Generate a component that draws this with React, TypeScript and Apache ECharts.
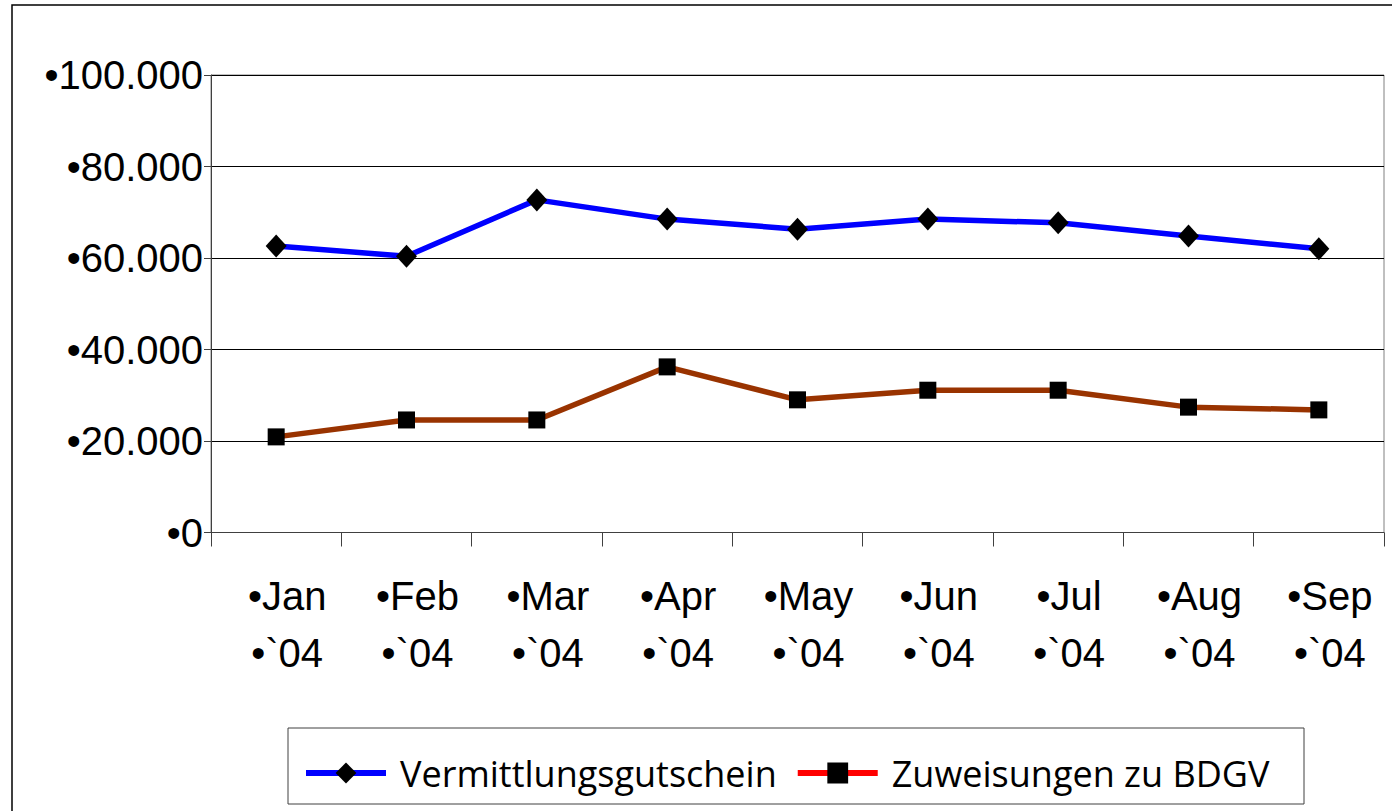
import React, { useEffect, useRef } from "react";
import * as echarts from "echarts";

const months = ["Jan", "Feb", "Mar", "Apr", "May", "Jun", "Jul", "Aug", "Sep"];
const yearLabel = "`04";
const vermittlungsgutschein = [62600, 60400, 72700, 68500, 66300, 68500, 67700, 64800, 62000];
const zuweisungen = [20900, 24600, 24600, 36200, 29000, 31100, 31100, 27400, 26800];
const seriesNames = ["Vermittlungsgutschein", "Zuweisungen zu BDGV"];
const yMin = 0;
const yMax = 100000;
const yStep = 20000;

const fmtThousands = (v: number) => String(v).replace(/\B(?=(\d{3})+(?!\d))/g, ".");

export default function App() {
  const ref = useRef<HTMLDivElement>(null);
  useEffect(() => {
    if (!ref.current) return;
    const chart = echarts.init(ref.current, undefined, { renderer: "svg" });
    const axisFont = "'Liberation Sans', Arial, sans-serif";
    chart.setOption({
      animation: false,
      backgroundColor: "#ffffff",
      grid: {
        left: 211,
        top: 75,
        width: 1173,
        height: 457.5,
        show: true,
        borderColor: "#808080",
        borderWidth: 1,
        backgroundColor: "transparent",
      },
      graphic: [
        {
          type: "rect",
          shape: { x: 12, y: 5, width: 1500, height: 900 },
          style: { fill: "none", stroke: "#000", lineWidth: 1.5 },
          silent: true,
          z: -1,
        },
        {
          type: "rect",
          shape: { x: 288, y: 728, width: 1016, height: 76 },
          style: { fill: "none", stroke: "#404040", lineWidth: 1 },
          silent: true,
        },
      ],
      legend: {
        left: 303,
        top: 755,
        padding: 0,
        itemWidth: 80,
        itemHeight: 26,
        itemGap: 18,
        textStyle: {
          fontFamily: "'Open Sans', sans-serif",
          fontSize: 36,
          color: "#000",
          padding: [4, 0, 0, 9],
        },
        data: [
          { name: seriesNames[0], lineStyle: { color: "#0000ff", width: 6 }, itemStyle: { color: "#000" } },
          { name: seriesNames[1], lineStyle: { color: "#ff0000", width: 6 }, itemStyle: { color: "#000" } },
        ],
      },
      xAxis: {
        type: "category",
        data: months,
        boundaryGap: true,
        axisLine: { lineStyle: { color: "#404040", width: 1 } },
        axisTick: { show: true, length: 14, lineStyle: { color: "#404040" } },
        splitLine: { show: false },
        axisLabel: {
          interval: 0,
          margin: 35,
          fontFamily: axisFont,
          fontSize: 40,
          lineHeight: 57,
          color: "#000",
          padding: [0, 0, 0, 22],
          formatter: (m: string) => `\u2022${m}\n\u2022${yearLabel}`,
        },
      },
      yAxis: {
        type: "value",
        min: yMin,
        max: yMax,
        interval: yStep,
        axisLine: { show: true, lineStyle: { color: "#404040", width: 1 } },
        axisTick: { show: true, length: 7, lineStyle: { color: "#404040" } },
        splitLine: { show: true, lineStyle: { color: "#000", width: 1 } },
        axisLabel: {
          margin: 8,
          fontFamily: axisFont,
          fontSize: 40,
          color: "#000",
          padding: [0, 0, 5, 0],
          formatter: (v: number) => `\u2022${fmtThousands(v)}`,
        },
      },
      series: [
        {
          name: seriesNames[0],
          type: "line",
          data: vermittlungsgutschein,
          symbol: "diamond",
          symbolSize: [21, 23],
          lineStyle: { color: "#0000ff", width: 5.5 },
          itemStyle: { color: "#000" },
          z: 3,
        },
        {
          name: seriesNames[1],
          type: "line",
          data: zuweisungen,
          symbol: "rect",
          symbolSize: 17,
          lineStyle: { color: "#993300", width: 5.5 },
          itemStyle: { color: "#000" },
          z: 3,
        },
      ],
    });
    return () => chart.dispose();
  }, []);
  return (
    <div
      ref={ref}
      style={{ position: "fixed", left: 0, top: 0, width: 1392, height: 811, overflow: "hidden", background: "#fff" }}
    />
  );
}
